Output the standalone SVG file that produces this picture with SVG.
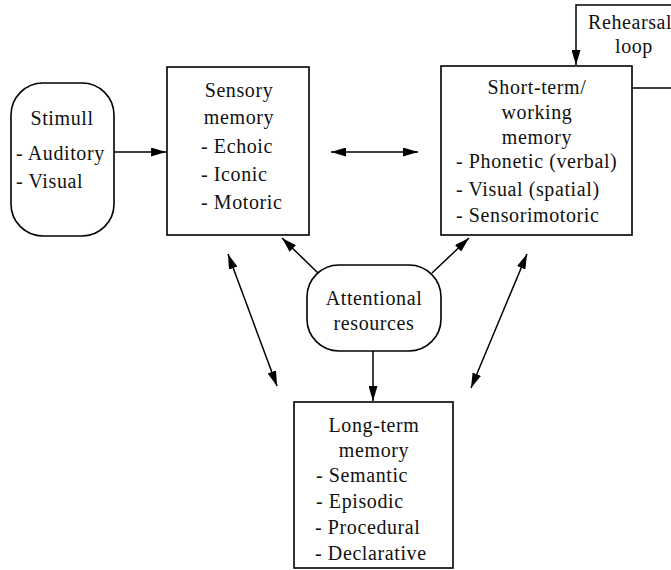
<svg xmlns="http://www.w3.org/2000/svg" width="671" height="570" viewBox="0 0 671 570">
<defs>
<marker id="ah" viewBox="0 0 15 9" refX="15" refY="4.5" markerWidth="15" markerHeight="9" markerUnits="userSpaceOnUse" orient="auto-start-reverse">
<path d="M0,0 L15,4.5 L0,9 Z" fill="#000"/>
</marker>
<style>
.box{fill:#fff;stroke:#000;stroke-width:1.6}
.ln{fill:none;stroke:#000;stroke-width:1.5}
text{font-family:"Liberation Serif","DejaVu Serif",serif;font-size:20px;letter-spacing:0.6px;fill:#111}
.c{text-anchor:middle}
</style>
</defs>
<rect width="671" height="570" fill="#fff"/>
<g id="connectors">
<line class="ln" x1="114" y1="152" x2="166" y2="152" marker-end="url(#ah)"/>
<line class="ln" x1="331" y1="152" x2="418" y2="152" marker-start="url(#ah)" marker-end="url(#ah)"/>
<polyline class="ln" points="671,5 576,5 576,65" marker-end="url(#ah)"/>
<line class="ln" x1="632" y1="88" x2="671" y2="88"/>
<line class="ln" x1="318" y1="273" x2="282" y2="238" marker-end="url(#ah)"/>
<line class="ln" x1="432" y1="273" x2="469" y2="238" marker-end="url(#ah)"/>
<line class="ln" x1="373" y1="351" x2="373" y2="401" marker-end="url(#ah)"/>
<line class="ln" x1="228" y1="254" x2="277" y2="386" marker-start="url(#ah)" marker-end="url(#ah)"/>
<line class="ln" x1="527" y1="254" x2="471" y2="388" marker-start="url(#ah)" marker-end="url(#ah)"/>
</g>
<g id="rehearsal-label">
<text x="588" y="29">Rehearsal</text>
<text x="634" y="53" class="c">loop</text>
</g>
<g id="stimuli">
<rect class="box" x="11" y="83" width="103" height="153" rx="32" ry="32"/>
<text x="62" y="125" class="c">Stimull</text>
<text x="16" y="160">- Auditory</text>
<text x="16" y="188">- Visual</text>
</g>
<g id="sensory">
<rect class="box" x="167" y="67" width="142" height="168"/>
<text x="239" y="97" class="c">Sensory</text>
<text x="239" y="124" class="c">memory</text>
<text x="201" y="153">- Echoic</text>
<text x="201" y="181">- Iconic</text>
<text x="201" y="209">- Motoric</text>
</g>
<g id="stm">
<rect class="box" x="441" y="66" width="191" height="169"/>
<text x="537" y="94" class="c">Short-term/</text>
<text x="537" y="119" class="c">working</text>
<text x="537" y="144" class="c">memory</text>
<text x="456" y="168">- Phonetic (verbal)</text>
<text x="456" y="196">- Visual (spatial)</text>
<text x="456" y="222">- Sensorimotoric</text>
</g>
<g id="attention">
<rect class="box" x="307" y="265" width="134" height="86" rx="32" ry="32"/>
<text x="374" y="305" class="c">Attentional</text>
<text x="374" y="330" class="c">resources</text>
</g>
<g id="ltm">
<rect class="box" x="294" y="402" width="159" height="166"/>
<text x="374" y="432" class="c">Long-term</text>
<text x="374" y="457" class="c">memory</text>
<text x="316" y="482">- Semantic</text>
<text x="316" y="508">- Episodic</text>
<text x="315" y="534">- Procedural</text>
<text x="315" y="560">- Declarative</text>
</g>
</svg>
